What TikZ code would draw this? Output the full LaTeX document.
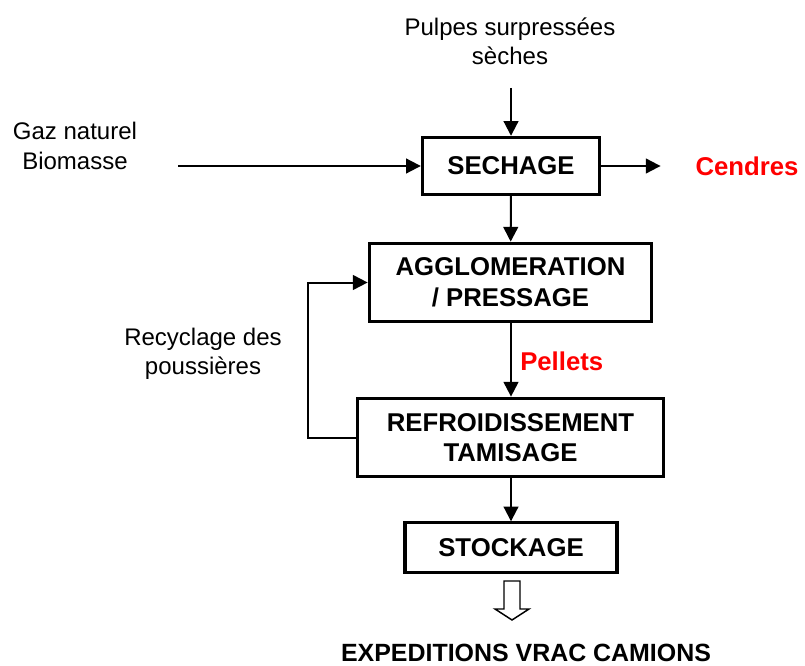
\documentclass[tikz,border=0pt]{standalone}
\usepackage{fontspec}
\setmainfont{Liberation Sans}
\usepackage{tikz}
\usetikzlibrary{arrows.meta}

\begin{document}
\begin{tikzpicture}
[
x=0.75pt,y=-0.75pt,
txt/.style={align=center,font=\fontsize{18}{22}\selectfont,inner sep=0pt},
btxt/.style={align=center,font=\fontsize{19.3}{23}\selectfont\bfseries,inner sep=0pt},
etape/.style 2 args={draw,line width=2.3pt,btxt,minimum width=#1,minimum height=#2},
flow/.style={line width=1.5pt,-{Triangle[length=11pt,width=11pt]}},
]
\useasboundingbox (0,0) rectangle (805,666);

%Place the nodes
\node[etape={133pt}{43pt}] (sechage) at (511,166) {SECHAGE};
\node[etape={212pt}{59pt}] (agglo) at (510.5,282.5) {AGGLOMERATION\\/ PRESSAGE};
\node[etape={230pt}{59pt}] (refroid) at (510.5,437.5) {REFROIDISSEMENT\\TAMISAGE};
\node[etape={159pt}{37pt}] (stock) at (511,547.5) {STOCKAGE};
\node[txt] (pulpes) at (510,41) {Pulpes surpressées\\sèches};
\node[txt] (gaz) at (75,146) {Gaz naturel\\Biomasse};
\node[btxt,text=red] (cendres) at (747,166) {Cendres};
\node[btxt,text=red,anchor=west] (pellets) at (520,361) {Pellets};
\node[txt] (recyclage) at (203,354) {Recyclage des\\poussières};
\node[btxt,font=\fontsize{18.7}{23}\selectfont\bfseries] (expe) at (526,653) {EXPEDITIONS VRAC CAMIONS};
\coordinate (pin) at (511,88);
\coordinate (gin) at (178,166);

%Draw the connections
\draw[flow] (pin) -- (sechage);
\draw[flow] (gin) -- (sechage);
\draw[flow,shorten >=26pt] (sechage) -- (cendres);
\draw[flow] (sechage) -- (agglo);
\draw[flow] (agglo.south-|pin) -- (refroid.north-|pin);
\draw[flow] (refroid.west) -- ++(-48,0) |- (agglo.west);
\draw[flow] (refroid.south-|pin) -- (stock.north-|pin);
%Hollow arrow
\draw[line width=1.1pt,fill=white] (504,581) -- (520,581) -- (520,609) -- (529,609) -- (512,620) -- (495,609) -- (504,609) -- cycle;
\end{tikzpicture}
\end{document}
